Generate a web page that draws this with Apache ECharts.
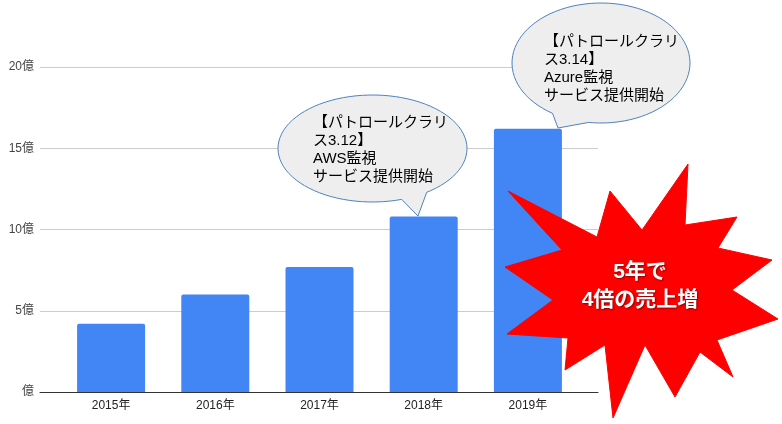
<!DOCTYPE html>
<html>
<head>
<meta charset="utf-8">
<script src="https://cdn.jsdelivr.net/npm/echarts@6/dist/echarts.min.js"></script>
<style>
html,body{margin:0;padding:0;background:#fff;}
#chart_sales{width:782px;height:424px;}
</style>
</head>
<body>
<div id="chart_sales"></div>
<script>
// 売上（億円）
var years = ['2015年', '2016年', '2017年', '2018年', '2019年'];
var sales = [4.2, 6.0, 7.7, 10.8, 16.2];
var yTicks = [0, 5, 10, 15, 20];
var bubble2018 = '【パトロールクラリ\nス3.12】\nAWS監視\nサービス提供開始';
var bubble2019 = '【パトロールクラリ\nス3.14】\nAzure監視\nサービス提供開始';
var burstText = '5年で\n4倍の売上増';

var FONT = "'Liberation Sans', 'Noto Sans CJK JP', sans-serif";

// 吹き出しの輪郭（楕円＋しっぽ）
function bubblePoints(cx, cy, rx, ry, a1, a2, tip) {
    // a1 -> a2 : しっぽの付け根（度、画面座標で時計回り）
    var pts = [];
    var start = a2, end = a1 + 360;
    for (var a = start; a <= end; a += 4) {
        var r = a * Math.PI / 180;
        pts.push([cx + rx * Math.cos(r), cy + ry * Math.sin(r)]);
    }
    var re = end * Math.PI / 180;
    pts.push([cx + rx * Math.cos(re), cy + ry * Math.sin(re)]);
    pts.push(tip);
    return pts;
}

function echart_sales() {
    var myChart = echarts.init(document.getElementById('chart_sales'));
    var option = {
        animation: false,
        textStyle: {fontFamily: FONT},
        grid: [
            {left: 40, right: 184, top: 67, bottom: 32},   // 目盛線用
            {left: 59, right: 202, top: 67, bottom: 32}    // 棒グラフ用
        ],
        xAxis: [
            {
                gridIndex: 0,
                type: 'category',
                data: years,
                axisLine: {lineStyle: {color: '#333', width: 1}},
                axisTick: {show: false},
                axisLabel: {show: false}
            },
            {
                gridIndex: 1,
                type: 'category',
                data: years,
                axisLine: {show: false},
                axisTick: {show: false},
                axisLabel: {color: '#222', fontSize: 12, margin: 8, fontFamily: FONT}
            }
        ],
        yAxis: [
            {
                gridIndex: 0,
                type: 'value',
                min: yTicks[0],
                max: yTicks[yTicks.length - 1],
                interval: 5,
                axisLine: {show: false},
                axisTick: {show: false},
                axisLabel: {
                    color: '#444', fontSize: 12, margin: 6, fontFamily: FONT,
                    formatter: function (v) { return v === 0 ? '億' : v + '億'; }
                },
                splitLine: {lineStyle: {color: '#cccccc', width: 1}}
            },
            {
                gridIndex: 1,
                type: 'value',
                min: yTicks[0],
                max: yTicks[yTicks.length - 1],
                show: false,
                splitLine: {show: false}
            }
        ],
        series: [
            {
                type: 'bar',
                xAxisIndex: 1,
                yAxisIndex: 1,
                barWidth: 68,
                itemStyle: {color: '#4285f4', borderRadius: [2, 2, 0, 0]},
                data: sales
            }
        ],
        graphic: [
            // 吹き出し 2018
            {
                type: 'polygon', z: 100,
                shape: {points: bubblePoints(372.5, 148.5, 94.5, 53.5, 55, 72, [418, 216])},
                style: {fill: '#eeeeee', stroke: '#4f81bd', lineWidth: 1}
            },
            {
                type: 'text', z: 101, left: 313, top: 114,
                style: {text: bubble2018, fill: '#000', fontSize: 15, lineHeight: 18, fontFamily: FONT}
            },
            // 吹き出し 2019
            {
                type: 'polygon', z: 100,
                shape: {points: bubblePoints(601, 63, 89, 60, 98, 123, [558, 128])},
                style: {fill: '#eeeeee', stroke: '#4f81bd', lineWidth: 1}
            },
            {
                type: 'text', z: 101, left: 544, top: 33,
                style: {text: bubble2019, fill: '#000', fontSize: 15, lineHeight: 18, fontFamily: FONT}
            },
            // 爆発マーク
            {
                type: 'polygon', z: 110,
                shape: {points: [
                    [505,267],[562,250],[508,191],[597,237],[610,191],[642,230],[688,164],[685,225],
                    [737,217],[718,248],[772,260],[732,290],[778,319],[717,340],[733,377],[700,352],
                    [675,397],[645,345],[613,418],[605,345],[565,370],[568,338],[507,334],[553,300]
                ]},
                style: {fill: '#ff0000', stroke: '#ff0000', lineWidth: 1}
            },
            {
                type: 'text', z: 111, x: 640, y: 286,
                style: {
                    text: burstText, fill: '#ffffff', fontSize: 21, fontWeight: 'bold', lineHeight: 28,
                    align: 'center', verticalAlign: 'middle', fontFamily: FONT,
                    textShadowColor: 'rgba(0,0,0,0.45)', textShadowBlur: 2, textShadowOffsetX: 1, textShadowOffsetY: 1
                }
            }
        ]
    };
    myChart.setOption(option);
}

echart_sales();
</script>
</body>
</html>
